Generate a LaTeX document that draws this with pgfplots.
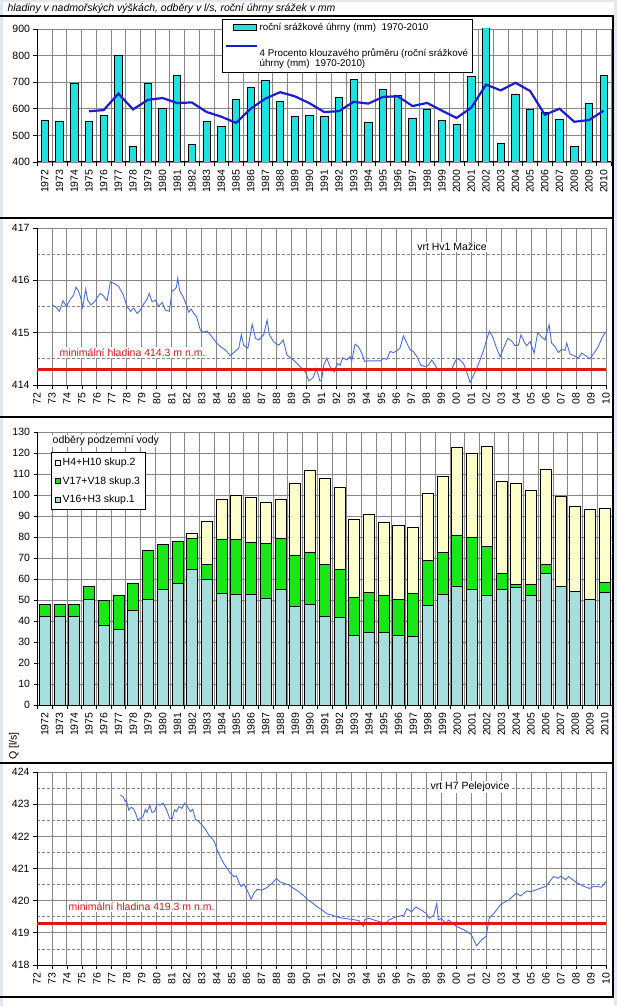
\documentclass[border=0pt]{standalone}
\usepackage{fontspec}
\setmainfont{Liberation Sans}
\usepackage{pgfplots}
\usepackage{pgfplotstable}
\pgfplotsset{compat=1.18}
\definecolor{barcyan}{RGB}{30,225,225}
\definecolor{mablue}{RGB}{28,28,212}
\definecolor{serblue}{RGB}{72,108,226}
\definecolor{minred}{RGB}{220,24,24}
\definecolor{gridgray}{RGB}{135,135,135}
\definecolor{qone}{RGB}{166,221,221}
\definecolor{qthree}{RGB}{24,232,24}
\definecolor{qtwo}{RGB}{255,255,204}
\definecolor{bgside}{RGB}{225,232,240}
\newcommand{\lbl}{\fontsize{10.5}{11.5}\selectfont}
\newcommand{\leg}{\fontsize{9.8}{11}\selectfont}

\pgfplotsset{
  panel/.style={
    scale only axis,
    axis x line*=bottom, axis y line*=left,
    axis line style={black, line width=1pt, -},
    tick align=outside,
    major tick length=4pt, minor tick length=4pt,
    tick style={black, line width=0.8pt},
    major grid style={gridgray, line width=0.9pt},
    minor grid style={gridgray, line width=0.8pt, dash pattern=on 3pt off 2pt},
    tick label style={font=\lbl},
    /pgf/number format/assume math mode=true,
    /pgf/number format/1000 sep={},
    enlargelimits=false,
  },
  catx/.style={
    xmin=1971.5, xmax=2010.5,
    xtick={1972,1973,...,2010},
    minor xtick={1971.5,1972.5,...,2010.5},
    major x tick style={draw=none},
    xmajorgrids=false, xminorgrids=true, ymajorgrids=true,
    minor grid style={gridgray, line width=0.9pt, solid},
    xticklabel style={rotate=90, anchor=east},
  },
  timex/.style={
    xmin=1972, xmax=2010,
    xtick={1972,1973,...,2010},
    xticklabels={72,73,74,75,76,77,78,79,80,81,82,83,84,85,86,87,88,89,90,91,92,93,94,95,96,97,98,99,00,01,02,03,04,05,06,07,08,09,10},
    xmajorgrids=true, ymajorgrids=true, yminorgrids=true,
    minor tick length=0pt,
    xticklabel style={rotate=90, anchor=east},
  },
  barlegA/.style={legend image code/.code={\draw[##1] (5pt,-3pt) rectangle (28pt,3pt);}},
  lineleg/.style={legend image code/.code={\draw[##1] (-2pt,0pt) -- (29pt,0pt);}},
  sqleg/.style={legend image code/.code={\draw[##1] (0pt,-2.5pt) rectangle (5pt,2.5pt);}},
}

\pgfplotstableread{
year rain
1972 558
1973 554
1974 697
1975 554
1976 575
1977 802
1978 460
1979 697
1980 603
1981 727
1982 468
1983 554
1984 532
1985 634
1986 682
1987 705
1988 629
1989 572
1990 577
1991 573
1992 643
1993 712
1994 550
1995 674
1996 652
1997 565
1998 597
1999 558
2000 542
2001 720
2002 944
2003 471
2004 656
2005 597
2006 586
2007 562
2008 460
2009 622
2010 727
}\raindata

\pgfplotstableread{
year ma
1975 590.8
1976 595.0
1977 657.0
1978 597.8
1979 633.5
1980 640.5
1981 621.8
1982 623.8
1983 588.0
1984 570.3
1985 547.0
1986 600.5
1987 638.3
1988 662.5
1989 647.0
1990 620.8
1991 587.8
1992 591.3
1993 626.3
1994 619.5
1995 644.8
1996 647.0
1997 610.3
1998 622.0
1999 593.0
2000 565.5
2001 604.3
2002 691.0
2003 669.3
2004 697.8
2005 667.0
2006 577.5
2007 600.3
2008 551.3
2009 557.5
2010 592.8
}\madata

\pgfplotstableread{
year blue green yellow
1972 42.2 5.8 0
1973 42.2 5.8 0
1974 42.2 5.8 0
1975 50.1 6.6 0
1976 37.8 11.8 0
1977 35.9 16.5 0
1978 45.0 13.1 0
1979 50.3 23.1 0
1980 55.2 21.4 0
1981 58.0 19.7 0
1982 64.7 14.4 2.6
1983 60.0 7.1 20.1
1984 53.3 25.4 19.4
1985 52.7 26.0 21.3
1986 52.7 24.5 21.7
1987 50.9 25.9 19.8
1988 55.0 24.4 18.3
1989 47.0 24.4 34.2
1990 48.0 24.9 38.9
1991 42.3 24.8 41.0
1992 41.8 22.6 39.0
1993 33.2 18.2 37.2
1994 34.7 18.8 37.5
1995 34.7 17.6 34.8
1996 33.2 17.1 35.0
1997 32.7 20.6 31.4
1998 47.5 21.2 32.1
1999 52.8 19.7 36.5
2000 56.7 24.3 41.5
2001 55.2 24.8 40.0
2002 52.4 22.9 47.7
2003 55.2 7.6 43.9
2004 56.0 1.3 48.0
2005 52.0 5.3 45.0
2006 62.8 4.0 45.2
2007 56.5 0 42.6
2008 54.3 0 40.4
2009 50.5 0 42.8
2010 53.8 4.4 35.6
}\qdata

\pgfplotstableread{
t h
1973.00 415.53
1973.22 415.50
1973.50 415.41
1973.74 415.61
1973.96 415.50
1974.23 415.64
1974.45 415.72
1974.60 415.87
1974.76 415.80
1974.90 415.69
1975.05 415.48
1975.25 415.83
1975.39 415.62
1975.60 415.53
1975.90 415.61
1976.00 415.67
1976.23 415.75
1976.45 415.70
1976.68 415.61
1976.90 415.97
1977.17 415.94
1977.46 415.88
1977.75 415.73
1978.01 415.50
1978.24 415.41
1978.46 415.47
1978.68 415.37
1978.90 415.43
1979.13 415.55
1979.35 415.64
1979.50 415.75
1979.68 415.59
1979.90 415.62
1980.13 415.50
1980.35 415.58
1980.57 415.43
1980.84 415.41
1981.02 415.80
1981.18 415.82
1981.31 415.87
1981.40 416.04
1981.53 415.80
1981.75 415.69
1981.98 415.53
1982.13 415.39
1982.29 415.45
1982.47 415.37
1982.65 415.31
1982.80 415.16
1982.91 415.05
1983.14 415.01
1983.36 415.03
1983.58 414.96
1983.92 414.83
1984.25 414.73
1984.58 414.67
1984.92 414.56
1985.18 414.63
1985.47 414.70
1985.65 414.96
1985.80 414.76
1986.08 414.70
1986.37 415.16
1986.59 414.89
1986.81 414.86
1987.14 414.96
1987.37 415.24
1987.52 414.96
1987.81 414.82
1988.15 414.76
1988.44 414.86
1988.70 414.57
1989.04 414.50
1989.37 414.41
1989.71 414.31
1989.93 414.25
1990.15 414.08
1990.44 414.14
1990.66 414.31
1990.89 414.08
1991.00 414.08
1991.15 414.38
1991.35 414.51
1991.57 414.35
1991.84 414.25
1992.06 414.41
1992.24 414.38
1992.42 414.52
1992.69 414.48
1992.91 414.54
1993.02 414.46
1993.24 414.78
1993.47 414.73
1993.69 414.61
1993.87 414.45
1994.02 414.46
1994.91 414.46
1995.14 414.51
1995.36 414.49
1995.58 414.64
1995.81 414.62
1996.03 414.65
1996.25 414.71
1996.47 414.94
1996.70 414.80
1996.92 414.67
1997.14 414.64
1997.37 414.54
1997.63 414.38
1997.92 414.35
1998.14 414.38
1998.36 414.48
1998.59 414.38
1998.81 414.27
1999.03 414.29
1999.26 414.31
1999.48 414.32
1999.70 414.31
2000.03 414.51
2000.25 414.48
2000.48 414.41
2000.70 414.25
2000.92 414.05
2001.14 414.18
2001.37 414.32
2001.59 414.48
2001.81 414.65
2001.99 414.83
2002.21 415.03
2002.43 414.92
2002.66 414.73
2002.93 414.54
2003.15 414.70
2003.44 414.89
2003.70 414.84
2003.93 414.75
2004.15 414.76
2004.32 414.96
2004.53 414.83
2004.70 414.75
2004.93 414.83
2005.20 414.61
2005.44 415.00
2005.70 414.92
2005.93 414.86
2006.04 414.99
2006.20 415.15
2006.37 414.80
2006.60 414.73
2006.82 414.62
2007.04 414.68
2007.27 414.66
2007.38 414.80
2007.60 414.59
2007.86 414.56
2008.15 414.51
2008.37 414.61
2008.64 414.56
2008.92 414.50
2009.20 414.61
2009.48 414.73
2009.71 414.89
2009.93 414.99
2010.00 415.01
}\hvone

\pgfplotstableread{
t h
1977.57 423.28
1977.75 423.23
1977.90 423.08
1977.97 423.13
1978.12 422.82
1978.28 422.90
1978.41 422.87
1978.57 422.74
1978.73 422.51
1978.90 422.56
1979.08 422.61
1979.24 422.84
1979.35 422.74
1979.53 422.97
1979.68 422.74
1979.84 422.77
1980.02 423.00
1980.20 422.97
1980.42 423.03
1980.64 422.84
1980.86 422.56
1981.02 422.53
1981.18 422.82
1981.31 422.77
1981.47 422.92
1981.69 422.87
1981.84 423.03
1982.02 422.94
1982.24 422.77
1982.40 422.84
1982.58 422.53
1982.80 422.46
1983.02 422.35
1983.25 422.22
1983.47 422.04
1983.69 421.94
1983.85 421.83
1984.03 421.58
1984.25 421.35
1984.47 421.16
1984.69 421.01
1984.92 420.85
1985.14 420.75
1985.32 420.77
1985.47 420.59
1985.63 420.44
1985.81 420.52
1986.03 420.33
1986.30 420.04
1986.48 420.23
1986.70 420.35
1987.03 420.33
1987.37 420.41
1987.70 420.54
1987.99 420.69
1988.21 420.59
1988.48 420.54
1988.81 420.49
1989.15 420.38
1989.48 420.28
1989.82 420.15
1990.08 420.02
1990.37 419.94
1990.71 419.81
1991.04 419.71
1991.38 419.59
1991.70 419.55
1992.00 419.50
1992.50 419.45
1993.00 419.42
1993.50 419.38
1993.80 419.20
1993.90 419.42
1994.20 419.45
1994.50 419.40
1995.00 419.33
1995.30 419.30
1995.50 419.40
1996.00 419.50
1996.50 419.55
1996.70 419.75
1997.00 419.65
1997.30 419.80
1997.70 419.70
1998.00 419.60
1998.20 419.45
1998.50 419.55
1998.70 419.92
1998.80 419.40
1999.00 419.45
1999.30 419.30
1999.50 419.40
2000.00 419.20
2000.50 419.10
2001.00 418.95
2001.35 418.60
2001.70 418.78
2002.00 418.90
2002.20 419.45
2002.50 419.60
2003.00 419.90
2003.50 420.02
2004.00 420.23
2004.30 420.15
2004.70 420.30
2005.00 420.28
2005.40 420.35
2006.00 420.45
2006.50 420.75
2006.80 420.70
2007.00 420.76
2007.30 420.65
2007.50 420.75
2008.00 420.57
2008.50 420.45
2008.90 420.38
2009.20 420.45
2009.70 420.42
2010.00 420.60
}\hseven

\begin{document}
\begin{tikzpicture}
\path[use as bounding box] (0pt,0pt) rectangle (617pt,-1006pt);
\fill[white] (0pt,0pt) rectangle (617pt,-1006pt);
\fill[bgside] (0pt,0pt) rectangle (3pt,-1006pt);
\fill[bgside] (614pt,0pt) rectangle (617pt,-1006pt);
\fill[bgside] (0pt,0pt) rectangle (617pt,-2pt);

\node[anchor=west, font=\itshape\lbl] at (4pt,-9pt) {hladiny v nadmořských výškách, odběry v l/s, roční úhrny srážek v mm};

% ---------- Panel 1 ----------
\begin{axis}[panel, catx,
  at={(37.5pt,-29pt)}, anchor=north west,
  width=573.5pt, height=133pt,
  ymin=400, ymax=900, ytick={400,500,...,900},
  legend style={at={(0.3217,1.075)}, anchor=north west, draw=black, line width=0.8pt,
    fill=white, font=\leg, row sep=0pt, inner sep=3pt, cells={anchor=west},
    nodes={inner sep=1pt}},
]
\addplot[ybar, bar width=0.5, fill=barcyan, draw=black, line width=0.8pt, barlegA]
  table[x=year, y=rain] {\raindata};
\addlegendentry{roční srážkové úhrny (mm)\ \ 1970-2010}
\addplot[sharp plot, mablue, line width=2.2pt, lineleg]
  table[x=year, y=ma] {\madata};
\addlegendentry{\rule{0pt}{22pt}4 Procento klouzavého průměru (roční srážkové}
\addlegendimage{empty legend}
\addlegendentry{úhrny (mm)\ \ 1970-2010)}
\end{axis}

% ---------- Panel 2 ----------
\begin{axis}[panel, timex,
  at={(37pt,-228pt)}, anchor=north west,
  width=569pt, height=157pt,
  ymin=414, ymax=417, ytick={414,415,416,417},
  minor ytick={414.5,415.5,416.5},
]
\addplot[serblue, line width=0.9pt] table[x=t, y=h] {\hvone};
\addplot[minred, line width=2.8pt] coordinates {(1972,414.3) (2010,414.3)};
\end{axis}

% ---------- Panel 3 ----------
\begin{axis}[panel, catx,
  at={(37.5pt,-432pt)}, anchor=north west,
  width=574.5pt, height=273pt,
  ybar stacked, bar width=0.75,
  ymin=0, ymax=130, ytick={0,10,...,130},
  reverse legend, sqleg,
  legend style={at={(0.0235,0.9267)}, anchor=north west, draw=black, line width=0.8pt,
    fill=white, font=\lbl, row sep=5.5pt, inner sep=3.5pt, cells={anchor=west}},
]
\addplot[fill=qone, draw=black, line width=0.8pt] table[x=year, y=blue] {\qdata};
\addlegendentry{V16+H3 skup.1}
\addplot[fill=qthree, draw=black, line width=0.8pt] table[x=year, y=green] {\qdata};
\addlegendentry{V17+V18 skup.3}
\addplot[fill=qtwo, draw=black, line width=0.8pt] table[x=year, y=yellow] {\qdata};
\addlegendentry{H4+H10 skup.2}
\end{axis}

% ---------- Panel 4 ----------
\begin{axis}[panel, timex,
  at={(37pt,-772pt)}, anchor=north west,
  width=569pt, height=193pt,
  ymin=418, ymax=424, ytick={418,419,...,424},
  minor ytick={418.5,419.5,420.5,421.5,422.5,423.5},
]
\addplot[serblue, line width=0.9pt] table[x=t, y=h] {\hseven};
\addplot[minred, line width=2.8pt] coordinates {(1972,419.3) (2010,419.3)};
\end{axis}

% annotations
\node[fill=white, inner sep=1.5pt, font=\lbl] at (452pt,-247pt) {vrt Hv1 Mažice};
\node[fill=white, inner sep=1.5pt, anchor=west, text=minred, font=\lbl] at (58pt,-352.5pt) {minimální hladina 414.3 m n.m.};
\node[fill=white, inner sep=1.5pt, anchor=west, font=\lbl] at (51pt,-441pt) {odběry podzemní vody};
\node[rotate=90, font=\lbl] at (14pt,-746pt) {Q [l/s]};
\node[fill=white, inner sep=1.5pt, font=\lbl] at (470pt,-787pt) {vrt H7 Pelejovice};
\node[fill=white, inner sep=1.5pt, anchor=west, text=minred, font=\lbl] at (67pt,-906.5pt) {minimální hladina 419.3 m n.m.};

% frames
\draw[black, line width=2pt] (0pt,-16pt) -- (614pt,-16pt);
\draw[black, line width=2pt] (0pt,-218pt) -- (614pt,-218pt);
\draw[black, line width=2pt] (0pt,-417pt) -- (614pt,-417pt);
\draw[black, line width=2pt] (0pt,-762.5pt) -- (614pt,-762.5pt);
\draw[black, line width=2pt] (0pt,-997pt) -- (614pt,-997pt);
\draw[black, line width=1.5pt] (613pt,-16pt) -- (613pt,-997pt);
\end{tikzpicture}
\end{document}
